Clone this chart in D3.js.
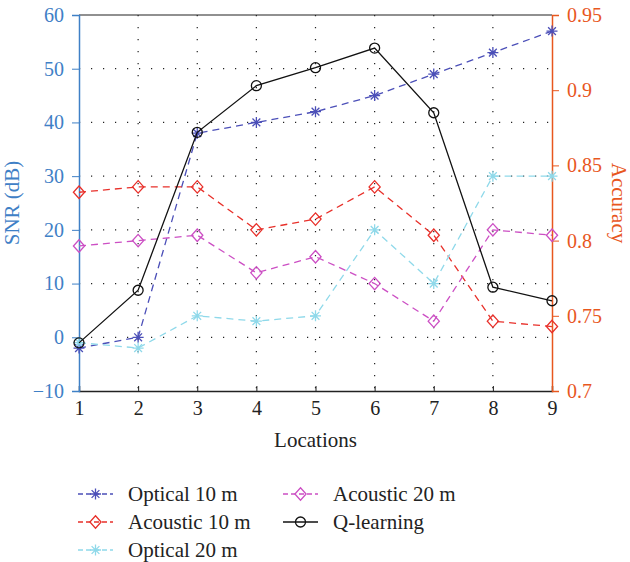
<!DOCTYPE html>
<html>
<head>
<meta charset="utf-8">
<script src="https://cdn.jsdelivr.net/npm/d3@7"></script>
<style>
  body { margin: 0; background: #fff; }
  text { font-family: "Liberation Serif", "DejaVu Serif", serif; }
</style>
</head>
<body>
<div id="chart"></div>
<script>
// chart data
var locations = [1, 2, 3, 4, 5, 6, 7, 8, 9];
var optical10 = [-2, 0, 38, 40, 42, 45, 49, 53, 57];
var acoustic10 = [27, 28, 28, 20, 22, 28, 19, 3, 2];
var optical20 = [-1, -2, 4, 3, 4, 20, 10, 30, 30];
var acoustic20 = [17, 18, 19, 12, 15, 10, 3, 20, 19];
var qLearning = [0.732, 0.767, 0.872, 0.903, 0.915, 0.928, 0.885, 0.769, 0.760];
var leftTicks = [-10, 0, 10, 20, 30, 40, 50, 60];
var rightTicks = [0.7, 0.75, 0.8, 0.85, 0.9, 0.95];

var svgWidth = 630;
var svgHeight = 562;
var margin = { top: 15, right: 78, bottom: 171, left: 79 };
var width = svgWidth - margin.left - margin.right;
var height = svgHeight - margin.top - margin.bottom;

var blueAxis = "#3f80c6";
var orangeAxis = "#e8571e";

var svg = d3.select("#chart")
    .append("svg")
    .attr("width", svgWidth)
    .attr("height", svgHeight);

var chartGroup = svg.append("g")
    .attr("transform", `translate(${margin.left}, ${margin.top})`);

var xScale = d3.scaleLinear().domain([1, 9]).range([0, width]);
var yLeft = d3.scaleLinear().domain([-10, 60]).range([height, 0]);
var yRight = d3.scaleLinear().domain([0.7, 0.95]).range([height, 0]);

// dotted grid
chartGroup.append("g")
    .selectAll("line")
    .data(locations.slice(1, -1))
    .enter()
    .append("line")
    .attr("x1", d => xScale(d)).attr("x2", d => xScale(d))
    .attr("y1", 0).attr("y2", height)
    .attr("stroke", "#222").attr("stroke-width", 1.2)
    .attr("stroke-dasharray", "1.2,10.8");

chartGroup.append("g")
    .selectAll("line")
    .data(leftTicks.slice(1, -1))
    .enter()
    .append("line")
    .attr("x1", 0).attr("x2", width)
    .attr("y1", d => yLeft(d)).attr("y2", d => yLeft(d))
    .attr("stroke", "#222").attr("stroke-width", 1.2)
    .attr("stroke-dasharray", "1.2,10.8");

// top border
chartGroup.append("line")
    .attr("x1", 0).attr("x2", width).attr("y1", 0).attr("y2", 0)
    .attr("stroke", "#222").attr("stroke-width", 1.2);

// axes
var bottomAxis = d3.axisBottom(xScale).tickValues(locations).tickSize(-5).tickPadding(10).tickFormat(d3.format("d"));
var leftAxis = d3.axisLeft(yLeft).tickValues(leftTicks).tickSize(7).tickPadding(8)
    .tickFormat(d => d < 0 ? "\u2212" + Math.abs(d) : d);
var rightAxis = d3.axisRight(yRight).tickValues(rightTicks).tickSize(7).tickPadding(8)
    .tickFormat(d => d3.format("")(+d.toFixed(2)));

var gx = chartGroup.append("g")
    .attr("transform", `translate(0, ${height})`)
    .call(bottomAxis);
gx.select(".domain").attr("stroke", "#222").attr("stroke-width", 1.5);
gx.selectAll("line").attr("stroke", "#222");
gx.selectAll("text").attr("font-size", "20px").attr("fill", "#222");

var gl = chartGroup.append("g").call(leftAxis);
gl.select(".domain").attr("stroke", blueAxis).attr("stroke-width", 1.5);
gl.selectAll("line").attr("stroke", blueAxis);
gl.selectAll("text").attr("font-size", "20px").attr("fill", blueAxis);

var gr = chartGroup.append("g")
    .attr("transform", `translate(${width}, 0)`)
    .call(rightAxis);
gr.select(".domain").attr("stroke", orangeAxis).attr("stroke-width", 1.5);
gr.selectAll("line").attr("stroke", orangeAxis);
gr.selectAll("text").attr("font-size", "20px").attr("fill", orangeAxis);

// axis titles
chartGroup.append("text")
    .attr("transform", `translate(${-60}, ${height / 2}) rotate(-90)`)
    .attr("text-anchor", "middle")
    .attr("font-size", "21px")
    .attr("fill", blueAxis)
    .text("SNR (dB)");

chartGroup.append("text")
    .attr("transform", `translate(${width + 60}, ${height / 2}) rotate(90)`)
    .attr("text-anchor", "middle")
    .attr("font-size", "21px")
    .attr("fill", orangeAxis)
    .text("Accuracy");

chartGroup.append("text")
    .attr("x", width / 2)
    .attr("y", height + 56)
    .attr("text-anchor", "middle")
    .attr("font-size", "21px")
    .attr("fill", "#222")
    .text("Locations");

// series
var series = [
    { name: "Optical 10 m", values: optical10, color: "#4b4fb8", marker: "star", dash: "7,5", axis: yLeft },
    { name: "Acoustic 10 m", values: acoustic10, color: "#e8302a", marker: "diamond", dash: "7,5", axis: yLeft },
    { name: "Optical 20 m", values: optical20, color: "#8fd9ea", marker: "star", dash: "7,5", axis: yLeft },
    { name: "Acoustic 20 m", values: acoustic20, color: "#cc4fc4", marker: "diamond", dash: "7,5", axis: yLeft },
    { name: "Q-learning", values: qLearning, color: "#111", marker: "circle", dash: null, axis: yRight }
];

function drawMarker(g, type, x, y, color) {
    if (type === "star") {
        var r = 5.5;
        var d = r * 0.707;
        g.append("path")
            .attr("d", `M${x - r},${y}L${x + r},${y}M${x},${y - r}L${x},${y + r}` +
                `M${x - d},${y - d}L${x + d},${y + d}M${x - d},${y + d}L${x + d},${y - d}`)
            .attr("stroke", color).attr("stroke-width", 1.3).attr("fill", "none");
    } else if (type === "diamond") {
        var s = 6.2;
        g.append("path")
            .attr("d", `M${x},${y - s}L${x + s * 0.9},${y}L${x},${y + s}L${x - s * 0.9},${y}Z`)
            .attr("stroke", color).attr("stroke-width", 1.3).attr("fill", "none");
    } else {
        g.append("circle")
            .attr("cx", x).attr("cy", y).attr("r", 5)
            .attr("stroke", color).attr("stroke-width", 1.3).attr("fill", "none");
    }
}

series.forEach(s => {
    var line = d3.line()
        .x((d, i) => xScale(locations[i]))
        .y(d => s.axis(d));
    chartGroup.append("path")
        .datum(s.values)
        .attr("d", line)
        .attr("fill", "none")
        .attr("stroke", s.color)
        .attr("stroke-width", 1.3)
        .attr("stroke-dasharray", s.dash);
    var mg = chartGroup.append("g");
    s.values.forEach((v, i) => drawMarker(mg, s.marker, xScale(locations[i]), s.axis(v), s.color));
});

// legend
var legendPos = [
    [78, 494], [78, 522], [78, 550], [283, 494], [283, 522]
];
var legend = svg.append("g");
series.forEach((s, j) => {
    var p = legendPos[j];
    legend.append("line")
        .attr("x1", p[0]).attr("x2", p[0] + 35)
        .attr("y1", p[1]).attr("y2", p[1])
        .attr("stroke", s.color).attr("stroke-width", 1.3)
        .attr("stroke-dasharray", s.dash ? "5,3" : null);
    drawMarker(legend, s.marker, p[0] + 17.5, p[1], s.color);
    legend.append("text")
        .attr("x", p[0] + 50)
        .attr("y", p[1] + 7)
        .attr("font-size", "21px")
        .attr("fill", "#222")
        .text(s.name);
});
</script>
</body>
</html>
